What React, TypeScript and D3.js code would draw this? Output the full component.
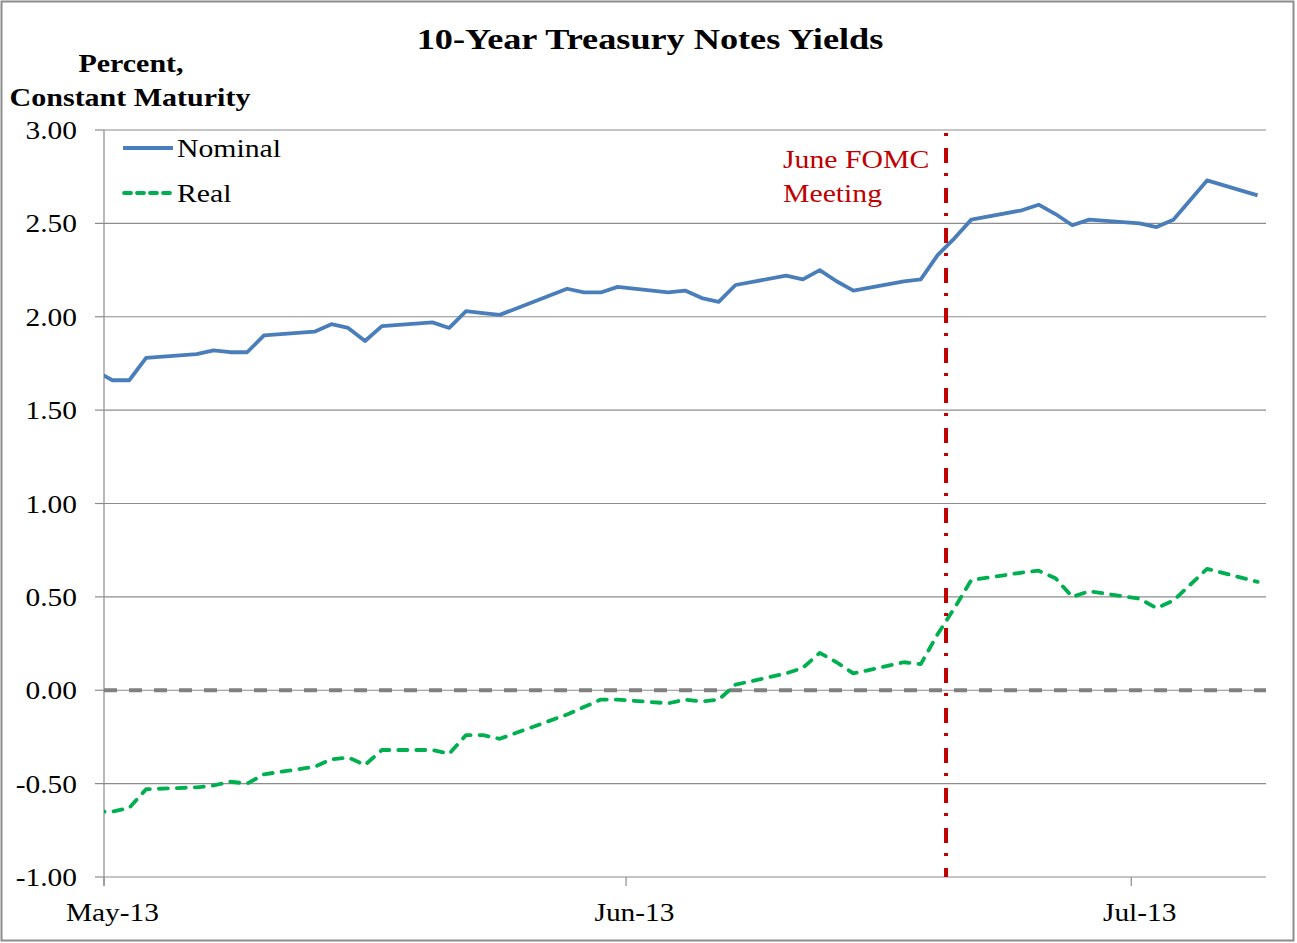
import React from "react";
import * as d3 from "d3";

const dates = [
  "2013-04-30", "2013-05-01", "2013-05-02", "2013-05-03", "2013-05-06", "2013-05-07", "2013-05-08", "2013-05-09", "2013-05-10",
  "2013-05-13", "2013-05-14", "2013-05-15", "2013-05-16", "2013-05-17", "2013-05-20", "2013-05-21", "2013-05-22", "2013-05-23",
  "2013-05-24", "2013-05-28", "2013-05-29", "2013-05-30", "2013-05-31", "2013-06-03", "2013-06-04", "2013-06-05", "2013-06-06",
  "2013-06-07", "2013-06-10", "2013-06-11", "2013-06-12", "2013-06-13", "2013-06-14", "2013-06-17", "2013-06-18", "2013-06-19",
  "2013-06-20", "2013-06-21", "2013-06-24", "2013-06-25", "2013-06-26", "2013-06-27", "2013-06-28", "2013-07-01", "2013-07-02",
  "2013-07-03", "2013-07-05", "2013-07-08",
];
const nominal = [
  1.71, 1.66, 1.66, 1.78, 1.80, 1.82, 1.81, 1.81, 1.90,
  1.92, 1.96, 1.94, 1.87, 1.95, 1.97, 1.94, 2.03, 2.02,
  2.01, 2.15, 2.13, 2.13, 2.16, 2.13, 2.14, 2.10, 2.08,
  2.17, 2.22, 2.20, 2.25, 2.19, 2.14, 2.19, 2.20, 2.33,
  2.42, 2.52, 2.57, 2.60, 2.55, 2.49, 2.52, 2.50, 2.48,
  2.52, 2.73, 2.65,
];
const real = [
  -0.65, -0.65, -0.63, -0.53, -0.52, -0.51, -0.49, -0.50, -0.45,
  -0.41, -0.37, -0.36, -0.40, -0.32, -0.32, -0.34, -0.24, -0.24,
  -0.26, -0.13, -0.09, -0.05, -0.05, -0.07, -0.05, -0.06, -0.05,
  0.03, 0.09, 0.12, 0.20, 0.15, 0.09, 0.15, 0.14, 0.30,
  0.44, 0.59, 0.63, 0.64, 0.60, 0.50, 0.53, 0.49, 0.44,
  0.48, 0.65, 0.58,
];
const yTicks = [3.0, 2.5, 2.0, 1.5, 1.0, 0.5, 0.0, -0.5, -1.0];
const xTicks = ["2013-05-01", "2013-06-01", "2013-07-01"];
const xTickLabels = ["May-13", "Jun-13", "Jul-13"];
const fomcDate = "2013-06-20";
const title = "10-Year Treasury Notes Yields";
const yTitle = ["Percent,", "Constant Maturity"];
const fomcLabel = ["June FOMC", "Meeting"];
const seriesNames = ["Nominal", "Real"];

const W = 1297;
const H = 943;
const SX = 1.2;
const FONT = "'Liberation Serif', 'Times New Roman', serif";

const parse = (s: string) => new Date(s + "T00:00:00Z");
const noon = (s: string) => new Date(s + "T12:00:00Z");
const fmt = (v: number) => d3.format(".2f")(v).replace("\u2212", "-");

function T(props: { x: number; y: number; size: number; anchor?: string; bold?: boolean; fill?: string; children: any }) {
  const { x, y, size, anchor = "start", bold = false, fill = "#000", children } = props;
  return (
    <text
      transform={`translate(${x},${y}) scale(${SX},1)`}
      textAnchor={anchor}
      fontFamily={FONT}
      fontSize={size}
      fontWeight={bold ? "bold" : "normal"}
      fill={fill}
    >
      {children}
    </text>
  );
}

export default function App() {
  const left = 104;
  const right = 1266;
  const top = 130;
  const bottom = 877;

  const x = d3.scaleUtc().domain([parse("2013-05-01"), parse("2013-07-09")]).range([left, right]);
  const y = d3.scaleLinear().domain([-1, 3]).range([bottom, top]);

  const nomData = dates.map((d, i) => ({ d: noon(d), v: nominal[i] }));
  const realData = dates.map((d, i) => ({ d: noon(d), v: real[i] }));
  const line = d3
    .line<{ d: Date; v: number }>()
    .x((p) => x(p.d))
    .y((p) => y(p.v));

  const fx = x(parse(fomcDate));

  return (
    <svg width={W} height={H} style={{ position: "absolute", left: 0, top: 0, background: "#fff" }}>
      <defs>
        <clipPath id="plotclip">
          <rect x={left} y={top - 10} width={right - left} height={bottom - top + 20} />
        </clipPath>
      </defs>
      <rect x={1.5} y={1.5} width={W - 5} height={H - 4} fill="#fff" stroke="#8c8c8c" strokeWidth={2} />

      {/* gridlines */}
      {yTicks.map((t) => (
        <line key={"g" + t} x1={left} x2={right} y1={y(t)} y2={y(t)} stroke="#8c8c8c" strokeWidth={1.2} />
      ))}
      {/* y axis */}
      <line x1={left} x2={left} y1={top} y2={bottom + 9} stroke="#8c8c8c" strokeWidth={1.2} />
      {yTicks.map((t) => (
        <line key={"yt" + t} x1={left - 9} x2={left} y1={y(t)} y2={y(t)} stroke="#8c8c8c" strokeWidth={1.2} />
      ))}
      {yTicks.map((t) => (
        <T key={"yl" + t} x={77} y={y(t) + 9} size={24.5} anchor="end">
          {fmt(t)}
        </T>
      ))}
      {/* x axis ticks */}
      {xTicks.map((t) => (
        <line key={"xt" + t} x1={x(parse(t))} x2={x(parse(t))} y1={bottom} y2={bottom + 9} stroke="#8c8c8c" strokeWidth={1.2} />
      ))}
      {xTicks.map((t, i) => (
        <T key={"xl" + t} x={x(noon(t))} y={921} size={24.5} anchor="middle">
          {xTickLabels[i]}
        </T>
      ))}

      {/* zero reference dashed */}
      <line x1={left} x2={right} y1={y(0)} y2={y(0)} stroke="#808080" strokeWidth={4} strokeDasharray="13 12" />

      <g clipPath="url(#plotclip)">
        <path d={line(nomData) || ""} fill="none" stroke="#4a7ebb" strokeWidth={3.8} strokeLinejoin="round" />
        <path
          d={line(realData) || ""}
          fill="none"
          stroke="#00b050"
          strokeWidth={3.8}
          strokeLinejoin="round"
          strokeLinecap="round"
          strokeDasharray="9 9"
        />
      </g>

      {/* FOMC line */}
      <line x1={fx} x2={fx} y1={top} y2={bottom} stroke="#c00000" strokeWidth={4} strokeDasharray="15 10 3 12" strokeDashoffset={22} />
      <T x={783} y={168} size={24.8} fill="#c00000">
        {fomcLabel[0]}
      </T>
      <T x={783} y={202} size={24.8} fill="#c00000">
        {fomcLabel[1]}
      </T>

      {/* legend */}
      <line x1={123} x2={173} y1={148} y2={148} stroke="#4a7ebb" strokeWidth={3.8} />
      <T x={177} y={157} size={24.8}>
        {seriesNames[0]}
      </T>
      <line x1={124} x2={173} y1={193} y2={193} stroke="#00b050" strokeWidth={3.8} strokeLinecap="round" strokeDasharray="7 6" />
      <T x={177} y={202} size={24.8}>
        {seriesNames[1]}
      </T>

      {/* titles */}
      <T x={650} y={49} size={30.2} anchor="middle" bold>
        {title}
      </T>
      <T x={131} y={72} size={25} anchor="middle" bold>
        {yTitle[0]}
      </T>
      <T x={130} y={106} size={25} anchor="middle" bold>
        {yTitle[1]}
      </T>
    </svg>
  );
}
